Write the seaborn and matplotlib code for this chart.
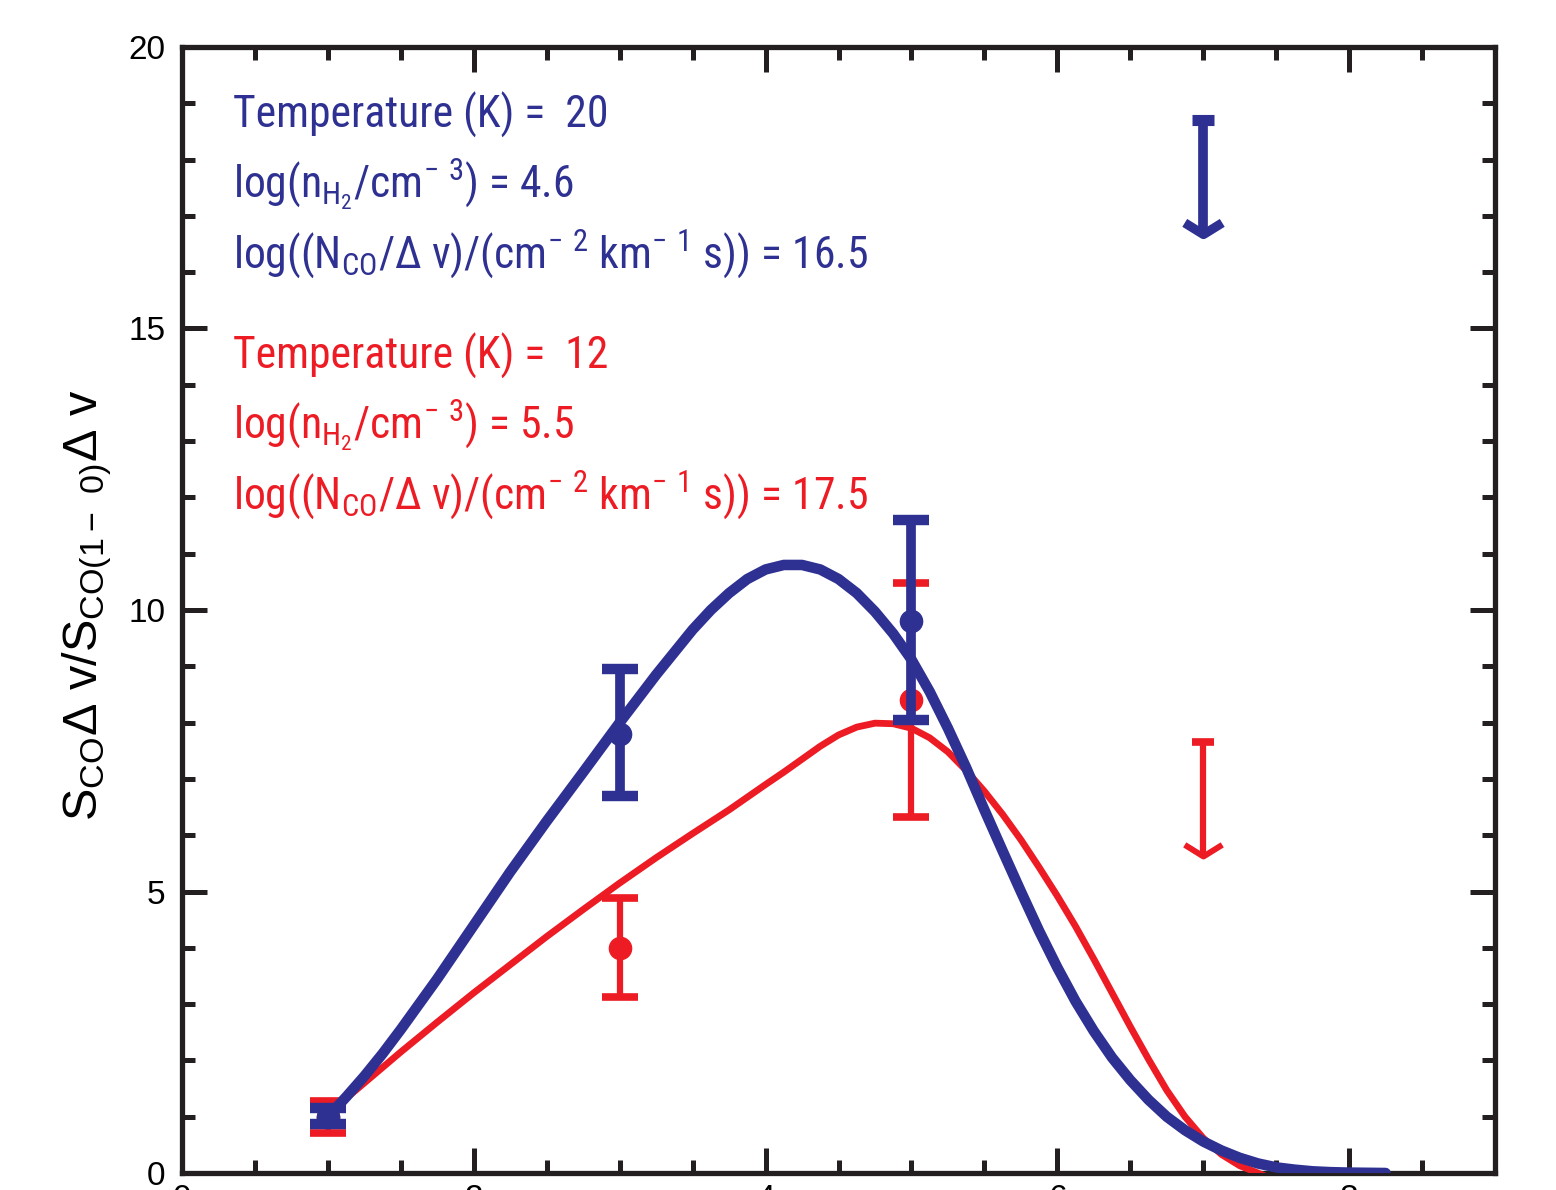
import numpy as np
import pandas as pd
import seaborn as sns
import matplotlib
matplotlib.use("Agg")
import matplotlib.pyplot as plt
from matplotlib import font_manager as fm
from matplotlib.font_manager import FontProperties
from matplotlib.path import Path
from matplotlib.ticker import MultipleLocator

# ---------------- data ----------------
obs_j = [1, 3, 5]
blue_obs = [1.0, 7.8, 9.8]
blue_lo = [0.87, 6.7, 8.05]
blue_hi = [1.15, 8.95, 11.6]
red_obs = [1.0, 4.0, 8.4]
red_lo = [0.71, 3.12, 6.32]
red_hi = [1.28, 4.88, 10.48]

lim_j = [7]
blue_lim = [18.7]
red_lim = [7.65]

blue_model_j = [1.0, 1.125, 1.25, 1.375, 1.5, 1.75, 2.0, 2.25, 2.5, 2.75, 3.0, 3.25,
                3.5, 3.625, 3.75, 3.875, 4.0, 4.125, 4.25, 4.375, 4.5, 4.625, 4.75,
                4.875, 5.0, 5.125, 5.25, 5.375, 5.5, 5.625, 5.75, 5.875, 6.0, 6.125,
                6.25, 6.375, 6.5, 6.625, 6.75, 6.875, 7.0, 7.125, 7.25, 7.375, 7.5,
                7.625, 7.75, 7.875, 8.0, 8.25]
blue_model = [1.0, 1.35, 1.72, 2.12, 2.55, 3.45, 4.4, 5.35, 6.25, 7.12, 8.0, 8.85,
              9.65, 10.0, 10.3, 10.55, 10.72, 10.8, 10.8, 10.72, 10.55, 10.3, 9.97,
              9.58, 9.12, 8.55, 7.9, 7.2, 6.45, 5.72, 5.0, 4.3, 3.65, 3.05,
              2.52, 2.05, 1.65, 1.3, 1.0, 0.76, 0.56, 0.4, 0.27, 0.17, 0.1,
              0.06, 0.03, 0.015, 0.007, 0.0]

red_model_j = [1.0, 1.25, 1.5, 1.75, 2.0, 2.25, 2.5, 2.75, 3.0, 3.25, 3.5, 3.75,
               4.0, 4.125, 4.25, 4.375, 4.5, 4.625, 4.75, 4.875, 5.0, 5.125, 5.25,
               5.375, 5.5, 5.625, 5.75, 5.875, 6.0, 6.125, 6.25, 6.375, 6.5, 6.625,
               6.75, 6.875, 7.0, 7.125, 7.25, 7.375, 7.42]
red_model = [1.05, 1.6, 2.15, 2.68, 3.2, 3.7, 4.2, 4.68, 5.15, 5.6, 6.03, 6.45,
             6.9, 7.12, 7.35, 7.58, 7.78, 7.92, 7.99, 7.98, 7.9, 7.73, 7.48,
             7.15, 6.78, 6.37, 5.92, 5.43, 4.92, 4.38, 3.8, 3.2, 2.6, 2.02,
             1.47, 1.0, 0.62, 0.33, 0.13, 0.0, -0.05]

blue_text = ["Temperature (K) =  20",
             r"log(n$_{\mathregular{H_2}}$/cm$^{-\ 3}$) = 4.6",
             r"log((N$_{\mathregular{CO}}$/Δ v)/(cm$^{-\ 2}$ km$^{-\ 1}$ s)) = 16.5"]
red_text = ["Temperature (K) =  12",
            r"log(n$_{\mathregular{H_2}}$/cm$^{-\ 3}$) = 5.5",
            r"log((N$_{\mathregular{CO}}$/Δ v)/(cm$^{-\ 2}$ km$^{-\ 1}$ s)) = 17.5"]
ylabel_text = r"S$_{\mathregular{CO}}$Δ v/S$_{\mathregular{CO(1-\ 0)}}$Δ v"

x_ticks = [0, 2, 4, 6, 8]
y_ticks = [0, 5, 10, 15, 20]

# ---------------- style ----------------
sns.set_theme(style="ticks")
names = {f.name for f in fm.fontManager.ttflist}
REG = "Liberation Sans" if "Liberation Sans" in names else "DejaVu Sans"
plt.rcParams["font.family"] = [REG, "DejaVu Sans"]
plt.rcParams["mathtext.default"] = "regular"


def find_narrow():
    prefs = ["Liberation Sans Narrow", "Roboto Condensed", "Noto Sans",
             "Open Sans Condensed", "Open Sans"]
    good = []
    for f in fm.fontManager.ttflist:
        nm = f.name
        st = str(f.stretch).lower()
        fn = f.fname.lower()
        if f.style != "normal":
            continue
        if f.weight not in (400, "normal", "regular"):
            continue
        if "mono" in fn or "serif" in fn and "sans" not in fn:
            continue
        narrow = ("narrow" in nm.lower() or "condensed" in nm.lower()
                  or st in ("condensed", "extra-condensed")
                  or ("condensed" in fn and "semi" not in fn and "extra" not in fn))
        if narrow and "dejavu" not in nm.lower():
            good.append(f)
    for p in prefs:
        for f in good:
            if f.name == p:
                return FontProperties(fname=f.fname)
    if good:
        return FontProperties(fname=good[0].fname)
    return FontProperties(family=[REG, "DejaVu Sans"])


ANN_FP = find_narrow()

BLUE = "#2E3192"
RED = "#ED1C24"
AXC = "#231F20"

fig = plt.figure(figsize=(15.56, 11.90), dpi=100)
ax = fig.add_axes([182 / 1556, 17 / 1190, (1495 - 182) / 1556, (1173 - 47) / 1190])

# model curves
sns.lineplot(x=red_model_j, y=red_model, ax=ax, color=RED, lw=4.9,
             sort=False, estimator=None, zorder=3)

r_obs = np.array(red_obs)
ax.errorbar(obs_j, red_obs, yerr=[r_obs - np.array(red_lo), np.array(red_hi) - r_obs],
            fmt="o", color=RED, ms=16, elinewidth=4.5, capsize=13, capthick=5.5,
            zorder=4)
b_obs = np.array(blue_obs)
ax.errorbar(obs_j, blue_obs, yerr=[b_obs - np.array(blue_lo), np.array(blue_hi) - b_obs],
            fmt="o", color=BLUE, ms=16, elinewidth=7, capsize=13, capthick=7.5,
            zorder=5)

sns.lineplot(x=blue_model_j, y=blue_model, ax=ax, color=BLUE, lw=7.6,
             sort=False, estimator=None, zorder=6)

# upper limits
chevron = Path([(-1, 0.62), (0, 0), (1, 0.62)], [Path.MOVETO, Path.LINETO, Path.LINETO])
ARROW = 2.1
for lims, col, lw in [(blue_lim, BLUE, 7), (red_lim, RED, 4.5)]:
    for j, v in zip(lim_j, lims):
        ax.plot([j, j], [v, v - ARROW + 0.05], color=col, lw=lw, solid_capstyle="butt",
                zorder=5)
        ax.plot([j], [v], marker="_", ms=16, mew=lw + 1, color=col, zorder=5)
        ax.plot([j], [v - ARROW + 0.08], marker=chevron, ms=27, mew=lw * 0.95,
                mfc="none", mec=col, zorder=5)

# annotations
x0 = (233 - 182) / 1313
texts = []
for i, (tb, tr) in enumerate(zip(blue_text, red_text)):
    yb = (1173 - (128 + 70 * i)) / 1126
    yr = (1173 - (369 + 70 * i)) / 1126
    texts.append(ax.text(x0, yb, tb, transform=ax.transAxes, color=BLUE,
                         fontproperties=ANN_FP, fontsize=35, va="baseline", ha="left"))
    texts.append(ax.text(x0, yr, tr, transform=ax.transAxes, color=RED,
                         fontproperties=ANN_FP, fontsize=35, va="baseline", ha="left"))

# fit the annotation size so the longest line spans the same width as the reference
fig.canvas.draw()
renderer = fig.canvas.get_renderer()
w = texts[4].get_window_extent(renderer).width
size = min(36.0, 35.0 * 635.0 / w)
for t in texts:
    t.set_fontsize(size)

fig.text(87 / 1556, 1 - 605 / 1190, ylabel_text, rotation=90, ha="center", va="center",
         fontsize=35, color="black", family=[REG, "DejaVu Sans"])

# axes
ax.set_xlim(0, 9)
ax.set_ylim(0, 20)
ax.set_xticks(x_ticks)
ax.set_yticks(y_ticks)
ax.xaxis.set_minor_locator(MultipleLocator(0.5))
ax.yaxis.set_minor_locator(MultipleLocator(1))
ax.tick_params(which="both", direction="in", top=True, right=True, color=AXC,
               width=3.6, labelsize=24, labelcolor="black")
ax.tick_params(which="major", length=18)
ax.tick_params(which="minor", length=9.5)
ax.tick_params(axis="x", pad=8)
ax.tick_params(axis="y", pad=12)
for s in ax.spines.values():
    s.set_linewidth(3.8)
    s.set_color(AXC)
    s.set_visible(True)
ax.set_xlabel("")
ax.set_ylabel("")
ax.grid(False)

fig.savefig("out.png", dpi=100)
